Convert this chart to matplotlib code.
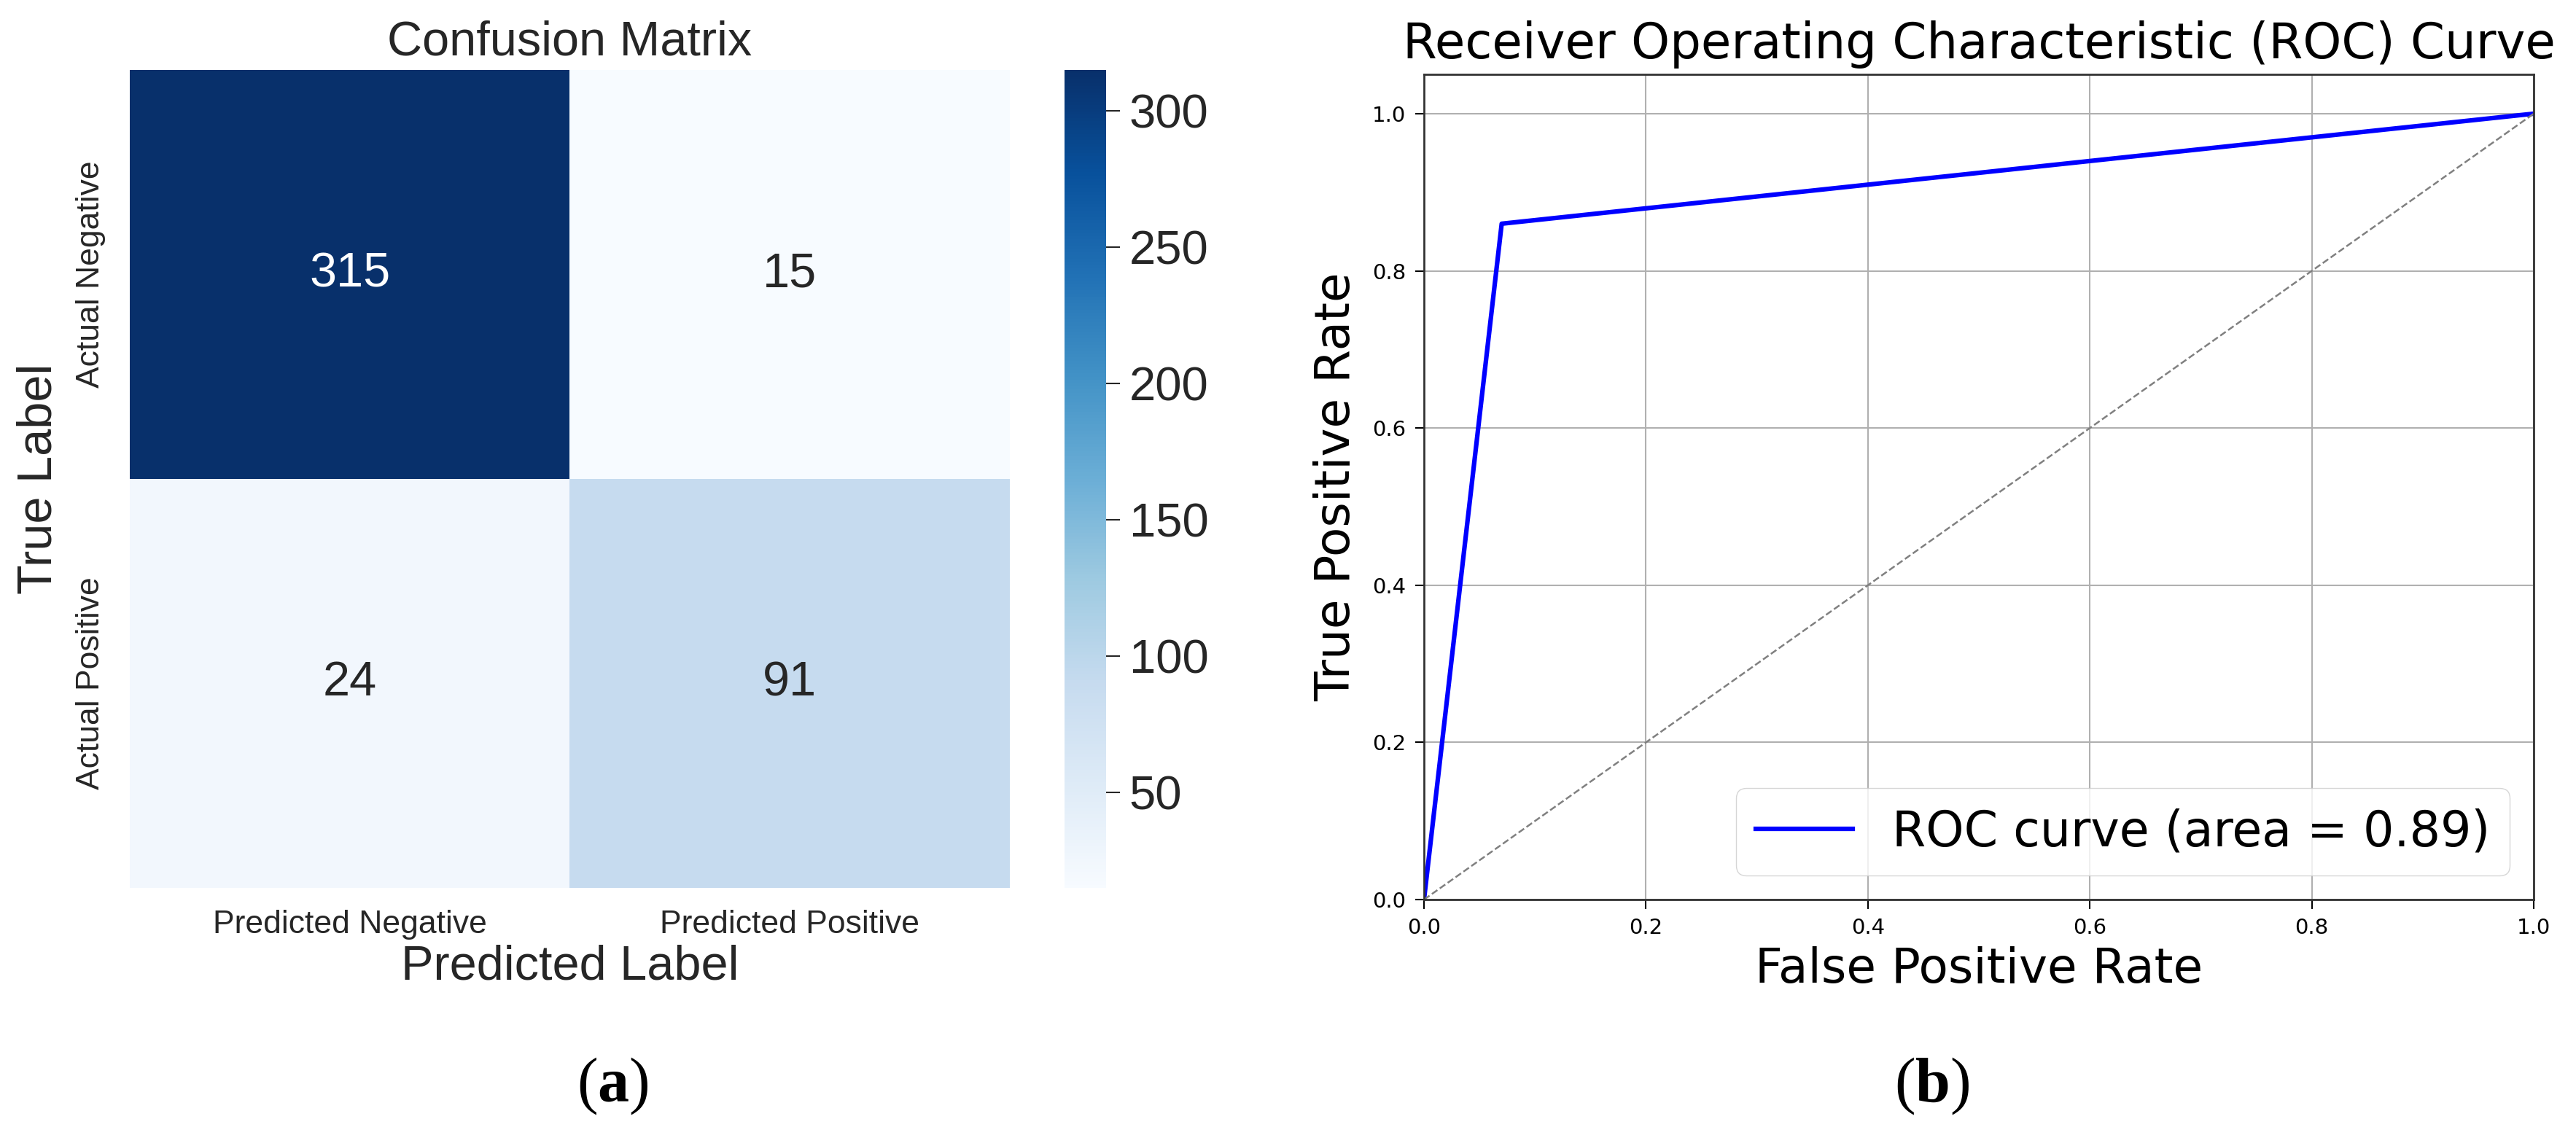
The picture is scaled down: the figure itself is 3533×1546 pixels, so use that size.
import matplotlib
matplotlib.use("Agg")
import matplotlib.pyplot as plt
import numpy as np

# confusion matrix (panel a)
row_labels = ["Actual Negative", "Actual Positive"]
col_labels = ["Predicted Negative", "Predicted Positive"]
cm_counts = [[315, 15],
             [24, 91]]
cbar_ticks = [50, 100, 150, 200, 250, 300]

# ROC curve (panel b)
fpr = [0.0, 0.07, 1.0]
tpr = [0.0, 0.86, 1.0]
roc_auc = 0.89
chance = [0.0, 1.0]
roc_ticks = [0.0, 0.2, 0.4, 0.6, 0.8, 1.0]

plt.rcParams["mathtext.fontset"] = "custom"
plt.rcParams["mathtext.rm"] = "Liberation Serif"
plt.rcParams["mathtext.bf"] = "Liberation Serif:bold"

SANS = "Liberation Sans"
INK = "#262626"

fig = plt.figure(figsize=(35.33, 15.46), dpi=100)

# ---- (a) confusion matrix heatmap ----
ax = fig.add_axes([0.0504, 0.2122, 0.3416, 0.7257])
cax = fig.add_axes([0.4132, 0.2122, 0.0161, 0.7257])

data = np.array(cm_counts)
mesh = ax.pcolormesh(data, cmap="Blues", vmin=data.min(), vmax=data.max())
ax.set_xlim(0, data.shape[1])
ax.set_ylim(data.shape[0], 0)
mid = (data.min() + data.max()) / 2
for i in range(data.shape[0]):
    for j in range(data.shape[1]):
        v = data[i, j]
        ax.text(j + 0.5, i + 0.5, str(v), ha="center", va="center",
                fontsize=48, family=SANS, color="white" if v > mid else INK)

ax.set_xticks(np.arange(len(col_labels)) + 0.5, col_labels)
ax.set_yticks(np.arange(len(row_labels)) + 0.5, row_labels,
              rotation=90, va="center")
for lab in ax.get_xticklabels() + ax.get_yticklabels():
    lab.set_family(SANS)
    lab.set_fontsize(32)
    lab.set_color(INK)
ax.tick_params(axis="x", length=0, pad=22)
ax.tick_params(axis="y", length=0, pad=24)
for s in ax.spines.values():
    s.set_visible(False)
ax.set_xlabel("Predicted Label", fontsize=48, family=SANS, color=INK, labelpad=4)
ax.set_ylabel("True Label", fontsize=48, family=SANS, color=INK, labelpad=14)
ax.set_title("Confusion Matrix", fontsize=48, family=SANS, color=INK, pad=15)

cb = fig.colorbar(mesh, cax=cax, ticks=cbar_ticks)
cb.outline.set_visible(False)
cax.tick_params(length=14, width=1.5, color=INK, labelcolor=INK,
                labelsize=47, pad=9)
for lab in cax.get_yticklabels():
    lab.set_family(SANS)

# ---- (b) ROC curve ----
ax2 = fig.add_axes([0.5528, 0.2018, 0.4308, 0.7322])
ax2.plot(fpr, tpr, color="blue", lw=4.5,
         label=f"ROC curve (area = {roc_auc:.2f})")
ax2.plot(chance, chance, color="gray", lw=1.8, linestyle="--")
ax2.set_xlim(0.0, 1.0)
ax2.set_ylim(0.0, 1.05)
ax2.set_xticks(roc_ticks)
ax2.set_yticks(roc_ticks)
ax2.grid(True, color="#b0b0b0", lw=1.5)
ax2.tick_params(labelsize=21, length=9, width=1.5, pad=9)
for s in ax2.spines.values():
    s.set_linewidth(2)
    s.set_color("#333333")
ax2.set_xlabel("False Positive Rate", fontsize=47.5, labelpad=8)
ax2.set_ylabel("True Positive Rate", fontsize=47.5, labelpad=12)
ax2.set_title("Receiver Operating Characteristic (ROC) Curve", fontsize=48.5, pad=16)
ax2.legend(loc="lower right", fontsize=48)

# panel captions
fig.text(840 / 3533, 1 - 1490 / 1546, r"($\mathbf{a}$)", ha="center", va="center",
         fontsize=62, family="Liberation Serif")
fig.text(2650 / 3533, 1 - 1490 / 1546, r"($\mathbf{b}$)", ha="center", va="center",
         fontsize=62, family="Liberation Serif")

fig.savefig("out.png", dpi=100)
plt.close(fig)
